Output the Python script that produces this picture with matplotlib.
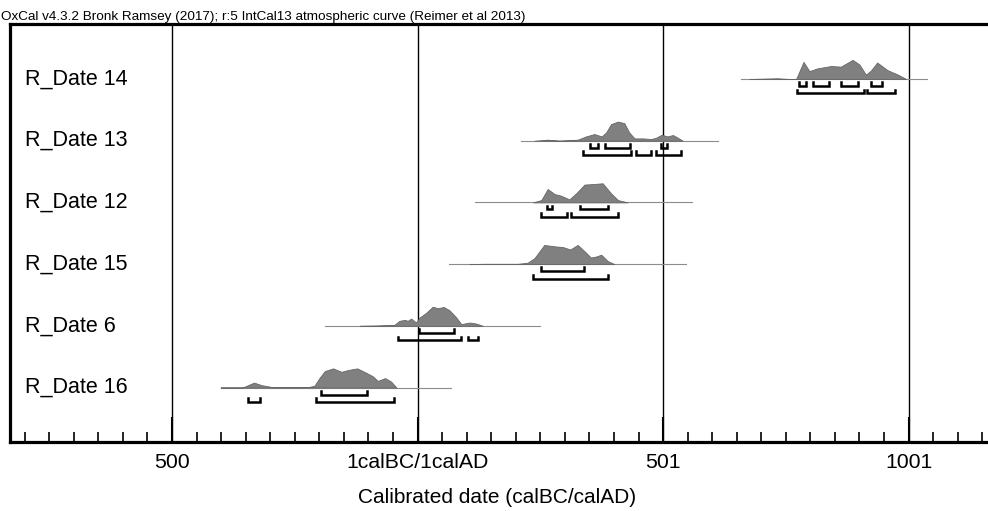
import numpy as np
import matplotlib.pyplot as plt

plt.rcParams['font.family'] = ['Liberation Sans', 'DejaVu Sans']

# axis units: 0 = 1calBC/1calAD boundary, -500 = 500 BC, 500 = 501 AD
names = ['R_Date 16', 'R_Date 6', 'R_Date 15', 'R_Date 12', 'R_Date 13', 'R_Date 14']

# baseline (calibration range shown) per date
spans = [(-401, 69), (-189, 250), (65, 546), (116, 558), (210, 611), (659, 1038)]

# probability distributions (date, relative density)
d16_t = [-401, -356, -345, -333, -318, -295, -223, -210, -200, -189, -172, -155, -142, -123, -104, -91, -81, -66, -54, -43]
d16_p = [0, 0, 2.3, 4.7, 2.3, 0.3, 0.3, 1.7, 9, 15.7, 18.3, 15, 16.7, 18.3, 14, 10.7, 6.3, 9, 5.7, 0]
d6_t = [-118, -84, -47, -37, -26, -20, -13, -3, 4, 18, 31, 41, 53, 65, 79, 89, 106, 119, 133]
d6_p = [0, 0.3, 1, 5, 6, 5, 7.3, 3.3, 8.3, 13.3, 19.3, 17.7, 19, 15.7, 8.3, 1.7, 3.3, 2.3, 0]
d15_t = [106, 136, 204, 224, 238, 258, 279, 296, 311, 326, 340, 353, 364, 374, 387, 401]
d15_p = [0, 0.3, 0.3, 1.3, 5.7, 18.3, 17, 16.3, 14, 18.3, 12.3, 6.3, 7.3, 9, 3, 0]
d12_t = [235, 252, 265, 279, 292, 309, 323, 340, 360, 377, 394, 408, 428]
d12_p = [0, 2.3, 13.3, 8.3, 6.7, 3, 9, 17.7, 18.3, 19, 9, 2.3, 0]
d13_t = [238, 265, 289, 326, 343, 360, 375, 384, 394, 408, 421, 431, 442, 459, 476, 486, 497, 509, 520, 530, 540]
d13_p = [0, 1, 0, 1, 4.3, 6.7, 4.3, 8.3, 16.7, 19.3, 17.7, 8.3, 2.3, 2.3, 1.7, 3, 6, 4.3, 5.7, 3, 0]
d14_t = [676, 733, 757, 771, 786, 798, 814, 842, 862, 886, 900, 913, 923, 936, 957, 978, 995]
d14_p = [0, 0.7, 0, 0, 16.6, 7.6, 10.3, 12.6, 12, 18.6, 14, 4.3, 8, 16, 8.6, 4.3, 0]

dists_t = [d16_t, d6_t, d15_t, d12_t, d13_t, d14_t]
dists_p = [d16_p, d6_p, d15_p, d12_p, d13_p, d14_p]

# highest posterior density ranges
hpd68 = [
    [(-197, -102)],
    [(3, 75)],
    [(252, 339)],
    [(263, 274), (330, 387)],
    [(352, 367), (381, 432), (496, 509)],
    [(777, 791), (806, 838), (862, 897), (924, 946)],
]
hpd95 = [
    [(-345, -320), (-206, -48)],
    [(-39, 89), (102, 123)],
    [(235, 387)],
    [(252, 304), (313, 408)],
    [(336, 435), (445, 476), (486, 537)],
    [(773, 910), (916, 972)],
]

tick_pos = [-500, 0, 500, 1000]
tick_labels = ['500', '1calBC/1calAD', '501', '1001']

fig = plt.figure(figsize=(9.88, 5.11), dpi=100)
ax = fig.add_axes([10 / 988, 69 / 511, 985 / 988, 418 / 511])

peak = 0.31
for i in range(len(names)):
    ax.plot(spans[i], [i, i], color='#8c8c8c', lw=0.8, zorder=2)
    t = np.array(dists_t[i], dtype=float)
    p = np.array(dists_p[i], dtype=float)
    p = p / p.max() * peak
    ax.fill_between(t, i, i + p, facecolor='#808080', edgecolor='#666666', lw=0.6, zorder=3)
    for off, ranges in [(0.115, hpd68[i]), (0.235, hpd95[i])]:
        for a, b in ranges:
            yb = i - off
            ax.plot([a, a, b, b], [yb + 0.06, yb, yb, yb + 0.06], color='black', lw=1.8,
                    solid_joinstyle='miter', zorder=4)
    ax.text(-799, i, names[i], fontsize=15.5, va='center', ha='left')

ax.set_xlim(-830, 1176)
ax.set_ylim(-0.883, 5.891)
ax.set_yticks([])
ax.set_xticks(tick_pos)
ax.set_xticklabels(tick_labels, fontsize=15.3)
ax.set_xticks(np.arange(-800, 1176, 50), minor=True)
ax.tick_params(axis='x', which='major', direction='in', length=18, width=1.5, pad=8)
ax.tick_params(axis='x', which='minor', direction='in', length=7, width=1.2)
for x in tick_pos:
    ax.axvline(x, color='black', lw=1.0, zorder=1)

ax.spines['right'].set_visible(False)
for s in ['top', 'left', 'bottom']:
    ax.spines[s].set_linewidth(2.3)

fig.text(497 / 988, 1 - 497 / 511, 'Calibrated date (calBC/calAD)', fontsize=15, ha='center', va='center')
fig.text(1 / 988, 1 - 17 / 511, 'OxCal v4.3.2 Bronk Ramsey (2017); r:5 IntCal13 atmospheric curve (Reimer et al 2013)',
         fontsize=9.7, ha='left', va='center')

fig.savefig('out.png', dpi=100)
